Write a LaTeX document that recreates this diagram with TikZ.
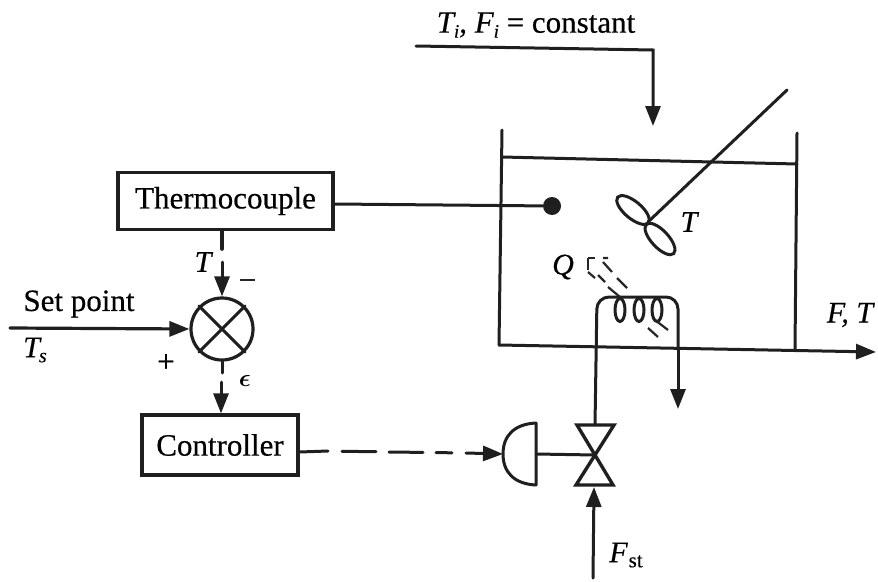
\documentclass[tikz,border=0pt]{standalone}
\usepackage{fontspec}
\setmainfont{Liberation Serif}[FakeBold=0.5]
\usetikzlibrary{arrows.meta}
\tikzset{
  wire/.style={line width=3pt,line cap=round,black!88},
  tip/.style={-{Triangle[length=20pt,width=15pt]}},
  heatdash/.style={line width=2.2pt,black!85},
  blockbox/.style={draw=black!88,line width=3.2pt,inner sep=0pt,font=\fontsize{31}{34}\selectfont},
  lab/.style={inner sep=0pt,font=\fontsize{31}{34}\selectfont},
  mathlab/.style={inner sep=0pt,font=\fontsize{30}{34}\selectfont\itshape}
}
\begin{document}
\begin{tikzpicture}[x=1pt,y=-1pt]
\useasboundingbox (0,0) rectangle (878,581);
% blocks
\node[blockbox,minimum width=215pt,minimum height=57pt] (tc) at (225.5,201) {Thermocouple};
\node[blockbox,minimum width=156pt,minimum height=60pt] (ctl) at (220,445) {Controller};
\node[circle,draw=black!88,line width=3.2pt,minimum size=62pt,inner sep=0pt] (sum) at (222,329) {};
\draw[wire] (sum.45) -- (sum.225) (sum.135) -- (sum.315);
% coordinates
\coordinate (feedS) at (416,46);
\coordinate (feedC) at (653,50);
\coordinate (feedE) at (653,126);
\coordinate (tankLT) at (502,130);
\coordinate (tankLB) at (499,345);
\coordinate (tankRT) at (797,133);
\coordinate (tankRB) at (795,350);
\coordinate (outE) at (876,352);
\coordinate (levL) at (502,157);
\coordinate (levR) at (797,164);
\coordinate (shaftT) at (787,90);
\coordinate (hub) at (648,222);
\coordinate (spS) at (10,328);
\coordinate (pipeVT) at (595,425);
\coordinate (pipeL) at (597,297);
\coordinate (pipeR) at (678,297);
\coordinate (pipeE) at (678,409);
\coordinate (stS) at (593,578);
\coordinate (stE) at (594,487);
% feed
\draw[wire,tip] (feedS) -- (feedC) -- (feedE);
% tank
\draw[wire] (tankLT) -- (tankLB);
\draw[wire] (tankRT) -- (tankRB);
\draw[wire] (levL) -- (levR);
\draw[wire,tip] (tankLB) -- (outE);
% agitator
\draw[wire] (shaftT) -- (hub);
\draw[wire] (633,210) ellipse[x radius=20pt,y radius=8.5pt,rotate=-40];
\draw[wire] (660,239) ellipse[x radius=20pt,y radius=8.5pt,rotate=-47];
% sensor
\node[circle,fill=black!88,minimum size=18pt,inner sep=0pt] (dot) at (552,206) {};
\draw[wire] ([yshift=-3pt]tc.east) -- (dot);
% signals
\coordinate (tgap) at (222,262);
\draw[wire,line width=3.6pt] (tc.south -| sum.north) -- (222,249);
\draw[wire,tip] (tgap) -- (sum.north);
\draw[wire,line width=3.2pt,tip] (spS) -- (sum.west);
\draw[wire] (sum.south) -- (222,373);
\coordinate (egap) at (221,382);
\draw[wire,tip] (egap) -- (ctl.north -| egap);
% actuator and valve
\coordinate (actTop) at (536,423);
\coordinate (actBot) at (536,485);
\coordinate (actMid) at (536,454);
\coordinate (actLeft) at (503,454);
\draw[wire,line join=round,fill=white] (actTop) -- (actBot) .. controls (514,484) and (503,472) .. (actLeft) .. controls (503,436) and (514,424) .. cycle;
\coordinate (vC) at (595,455);
\draw[wire,line width=3.4pt,line join=miter] (vC) -- (577,425) -- (614,425) -- cycle;
\draw[wire,line width=3.4pt,line join=miter] (vC) -- (576,485) -- (613,485) -- cycle;
\draw[wire] (actMid) -- (vC);
\coordinate (ctlOut) at ([yshift=-7pt]ctl.east);
\coordinate (d1e) at (328,451);
\coordinate (d2s) at (342,451.3);
\coordinate (d2e) at (376,451.7);
\coordinate (d3s) at (389,452);
\coordinate (d3e) at (423,452.4);
\coordinate (d4s) at (436,452.6);
\coordinate (d4e) at (452,452.8);
\draw[wire] (ctlOut) -- (d1e);
\draw[wire] (d2s) -- (d2e);
\draw[wire] (d3s) -- (d3e);
\draw[wire] (d4s) -- (d4e);
\coordinate (d5s) at (466,453);
\draw[wire,tip] (d5s) -- (actLeft);
% steam
\draw[wire,tip] (stS) -- (stE);
\draw[wire,rounded corners=12pt] (pipeVT) -- (pipeL) -- (pipeR) -- (tankRB -| pipeR);
\draw[wire,tip] (tankRB -| pipeR) -- (pipeE);
% coil
\foreach \cx in {620,639,657}
  \draw[wire] (\cx,310) ellipse[x radius=5pt,y radius=11.5pt];
% heat arrow
\draw[heatdash] (588,258) -- (595,258) (588,258) -- (588,270);
\draw[heatdash] (588,272) -- (595,278) (598,275) -- (605,282) (608,287) -- (620,297);
\draw[heatdash] (648,328) -- (658,337);
\draw[heatdash] (603,258) -- (608,258) (603,262) -- (612,272) (617,278) -- (627,288);
\draw[heatdash] (655,320) -- (668,330);
% labels
\node[lab] (sp) at (79,304) {Set point};
\node[mathlab] at (35,350) {T\kern-1pt\raisebox{-5pt}{\fontsize{20}{22}\selectfont s}};
\node[mathlab] at (203,262) {T};
\node[inner sep=0pt,fill=black!85,minimum width=15pt,minimum height=2.4pt] at (247,280) {};
\node[lab] at (166,363) {+};
\node[inner sep=0pt,font=\fontsize{36}{38}\selectfont\boldmath] at (245,381) {$\epsilon$};
\node[mathlab] at (689,222) {T};
\node[mathlab] at (563,267) {Q};
\node[mathlab] at (850,315) {F, T};
\node[mathlab] at (626,555) {F\kern1pt\raisebox{-5pt}{\upshape\fontsize{21}{23}\selectfont st}};
\node[lab] at (536,25) {\itshape T\raisebox{-5pt}{\fontsize{19}{21}\selectfont i}, F\raisebox{-5pt}{\fontsize{19}{21}\selectfont i}\upshape{} = constant};
\end{tikzpicture}
\end{document}
